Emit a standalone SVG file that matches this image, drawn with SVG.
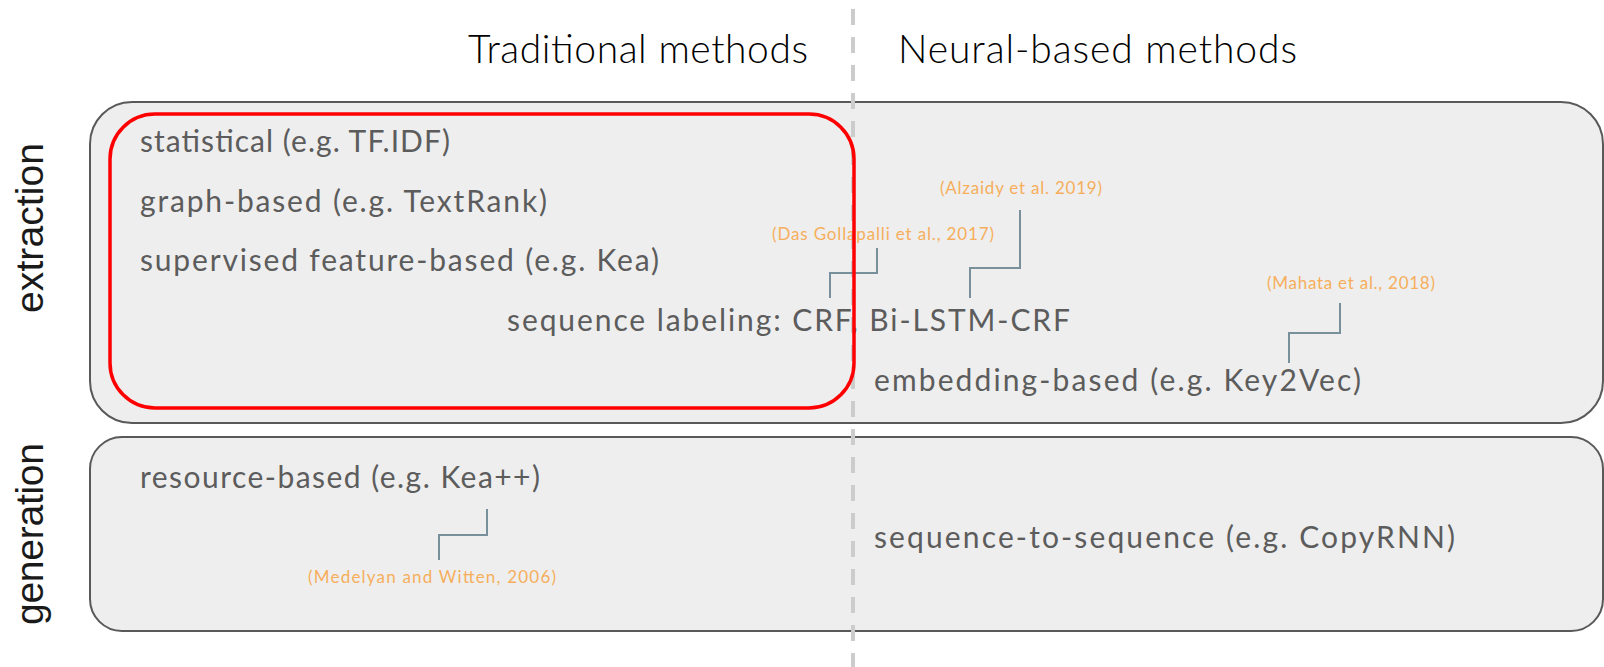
<svg xmlns="http://www.w3.org/2000/svg" width="1604" height="667" viewBox="0 0 1604 667">
  <defs>
    <style>
      .panel { fill: #eeeeee; stroke: #595959; stroke-width: 2; }
      .divider { stroke: #cccccc; stroke-width: 4; stroke-dasharray: 16 12; fill: none; }
      .focus { fill: none; stroke: #ff0000; stroke-width: 3.5; }
      .head { font-family: "Lato", "Open Sans", sans-serif; font-size: 39px; font-weight: 300; fill: #000000; }
      .axis { font-family: "Liberation Sans", Arial, sans-serif; font-size: 39px; fill: #1a1a1a; }
      .item { font-family: "Lato", "Open Sans", sans-serif; font-size: 30px; font-weight: 400; fill: #5c5c5c; }
      .cite { font-family: "Lato", "Open Sans", sans-serif; font-size: 17px; font-weight: 400; fill: #f6ae5c; }
      .link { fill: none; stroke: #78909c; stroke-width: 2; }
    </style>
  </defs>

  <rect width="1604" height="667" fill="#ffffff"/>

  <!-- column headings -->
  <g id="heading-traditional">
    <text class="head" x="468" y="63" textLength="340">Traditional methods</text>
  </g>
  <g id="heading-neural">
    <text class="head" x="898" y="63" textLength="399">Neural-based methods</text>
  </g>

  <!-- row labels -->
  <g id="label-extraction">
    <text class="axis" transform="translate(43,228) rotate(-90)" text-anchor="middle" textLength="170">extraction</text>
  </g>
  <g id="label-generation">
    <text class="axis" transform="translate(43,534) rotate(-90)" text-anchor="middle" textLength="182">generation</text>
  </g>

  <!-- row panels -->
  <g id="panel-extraction">
    <rect class="panel" x="90" y="102" width="1513" height="321" rx="42" ry="42"/>
  </g>
  <g id="panel-generation">
    <rect class="panel" x="90" y="437" width="1513" height="194" rx="32" ry="32"/>
  </g>

  <!-- column divider -->
  <g id="divider">
    <line class="divider" x1="853" y1="9" x2="853" y2="667"/>
  </g>

  <!-- method entries -->
  <g id="statistical">
    <text class="item" x="140" y="152" textLength="310">statistical (e.g. TF.IDF)</text>
  </g>
  <g id="graph-based">
    <text class="item" x="140" y="212" textLength="407">graph-based (e.g. TextRank)</text>
  </g>
  <g id="supervised">
    <text class="item" x="140" y="271" textLength="519">supervised feature-based (e.g. Kea)</text>
  </g>
  <g id="sequence-labeling">
    <text class="item" x="507" y="331" textLength="563">sequence labeling: CRF, Bi-LSTM-CRF</text>
  </g>
  <g id="embedding-based">
    <text class="item" x="874" y="391" textLength="487">embedding-based (e.g. Key2Vec)</text>
  </g>
  <g id="resource-based">
    <text class="item" x="140" y="488" textLength="400">resource-based (e.g. Kea++)</text>
  </g>
  <g id="seq2seq">
    <text class="item" x="874" y="548" textLength="581">sequence-to-sequence (e.g. CopyRNN)</text>
  </g>

  <!-- citations -->
  <g id="cite-das">
    <text class="cite" x="772" y="240" textLength="222">(Das Gollapalli et al., 2017)</text>
  </g>
  <g id="cite-alzaidy">
    <text class="cite" x="940" y="194" textLength="162">(Alzaidy et al. 2019)</text>
  </g>
  <g id="cite-mahata">
    <text class="cite" x="1267" y="289" textLength="168">(Mahata et al., 2018)</text>
  </g>
  <g id="cite-medelyan">
    <text class="cite" x="308" y="583" textLength="248">(Medelyan and Witten, 2006)</text>
  </g>

  <!-- citation leaders -->
  <g id="connectors">
    <polyline class="link" points="877,248 877,273 830,273 830,298"/>
    <polyline class="link" points="1020,210 1020,268 970,268 970,298"/>
    <polyline class="link" points="1340,303 1340,333 1289,333 1289,363"/>
    <polyline class="link" points="487,509 487,535 439,535 439,560"/>
  </g>

  <!-- highlight around the traditional extraction methods -->
  <g id="highlight">
    <rect class="focus" x="110" y="114" width="744" height="294" rx="45" ry="45"/>
  </g>
</svg>
